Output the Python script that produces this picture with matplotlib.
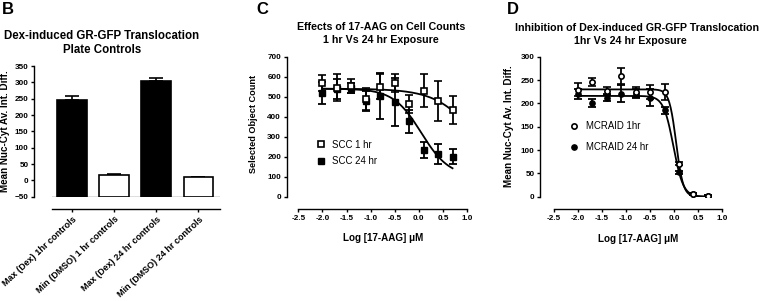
import numpy as np
import matplotlib.pyplot as plt

plt.rcParams['font.family'] = ['Liberation Sans', 'DejaVu Sans']
plt.rcParams['font.weight'] = 'bold'
plt.rcParams['axes.linewidth'] = 1.0

# panel B - plate controls
bar_labels = ['Max (Dex) 1hr controls', 'Min (DMSO) 1 hr controls',
              'Max (Dex) 24 hr controls', 'Min (DMSO) 24 hr controls']
bar_values = [247, 17, 304, 10]
bar_err = [12, 1.5, 10, 1.5]
bar_colors = ['black', 'white', 'black', 'white']

# panels C and D - log dose of 17-AAG (uM)
log_dose = [-2.0, -1.7, -1.4, -1.1, -0.8, -0.5, -0.2, 0.1, 0.4, 0.7]

scc_1hr = [567, 545, 553, 487, 550, 567, 463, 530, 480, 433]
scc_1hr_err = [41, 67, 35, 55, 62, 46, 45, 83, 100, 72]
scc_24hr = [517, 538, 545, 480, 505, 473, 377, 233, 213, 200]
scc_24hr_err = [55, 52, 25, 50, 115, 120, 57, 40, 50, 38]

mcraid_1hr = [229, 246, 226, 259, 224, 224, 224, 71, 5, 2]
mcraid_1hr_err = [14, 9, 8, 17, 10, 15, 17, 4, 2, 1]
mcraid_24hr = [220, 201, 212, 221, 221, 212, 185, 52, 6, 2]
mcraid_24hr_err = [10, 9, 8, 18, 10, 18, 8, 4, 2, 1]

# fitted dose-response parameters (top, bottom, logIC50, hill)
fit_scc_1hr = (540, 0, 1.29, 1.0)
fit_scc_24hr = (540, 100, 0.05, 1.5)
fit_mcraid_1hr = (230, 0, 0.041, 5.97)
fit_mcraid_24hr = (216, 0, -0.017, 4.25)


def logistic(x, top, bottom, c, h):
    return bottom + (top - bottom) / (1 + 10 ** ((x - c) * h))


W, H = 763, 301
fig = plt.figure(figsize=(W / 100, H / 100), dpi=100)


def px_axes(x0, x1, ytop, ybot):
    return fig.add_axes([x0 / W, 1 - ybot / H, (x1 - x0) / W, (ybot - ytop) / H])


def ftext(x, y, s, **kw):
    fig.text(x / W, 1 - y / H, s, **kw)


def style(ax, left_out, bottom_out):
    for s in ['top', 'right']:
        ax.spines[s].set_visible(False)
    ax.spines['left'].set_position(('outward', left_out))
    ax.spines['bottom'].set_position(('outward', bottom_out))
    ax.tick_params(direction='out', length=2.5, width=1.0, labelsize=5.9, pad=1.5)


def dose_axes(ax, ymax, ystep, left_out):
    style(ax, left_out, 9)
    ticks = np.arange(-2.5, 1.01, 0.5)
    ax.set_xlim(-2.5, 1.0)
    ax.set_ylim(0, ymax)
    ax.set_xticks(ticks)
    ax.set_xticklabels(['%.1f' % v for v in ticks])
    ax.set_yticks(range(0, ymax + 1, ystep))


def add_legend(ax, handles, labels, x, y, spacing):
    ax.legend([hd[0] for hd in handles], labels, loc='upper left',
              bbox_to_anchor=(x, y), frameon=False, handlelength=0.8,
              handletextpad=0.8, borderpad=0, borderaxespad=0, labelspacing=spacing,
              prop={'size': 6.9, 'weight': 'normal'})


# ---- B ----
axB = px_axes(52, 220, 66, 196.7)
style(axB, 13, 9)
pos = np.arange(len(bar_values))
vals = np.array(bar_values)
axB.bar(pos, vals + 50, bottom=-50, width=0.71, color=bar_colors,
        edgecolor='black', linewidth=1.2, zorder=3)
axB.errorbar(pos, vals, yerr=[np.zeros(len(bar_err)), bar_err], fmt='none',
             ecolor='black', elinewidth=1.2, capsize=5, capthick=1.2, zorder=2)
axB.axhline(-50, color='0.35', lw=1.0, zorder=1)
axB.set_xlim(-0.474, 3.51)
axB.set_ylim(-50, 350)
axB.set_yticks(range(-50, 351, 50))
axB.set_xticks(pos)
axB.set_xticklabels(bar_labels, rotation=43, ha='right', rotation_mode='anchor',
                    fontsize=6.5)

# ---- C ----
axC = px_axes(298.3, 467, 56.7, 196.7)
dose_axes(axC, 700, 100, 8.4)
xs = np.linspace(-2.0, 0.7, 200)
axC.plot(xs, logistic(xs, *fit_scc_1hr), color='black', lw=1.3)
axC.plot(xs, logistic(xs, *fit_scc_24hr), color='black', lw=1.3)
e24 = axC.errorbar(log_dose, scc_24hr, yerr=scc_24hr_err, fmt='s', ms=4.4, mfc='black',
                   mec='black', ecolor='black', elinewidth=1.3, capsize=3, capthick=1.3)
e1 = axC.errorbar(log_dose, scc_1hr, yerr=scc_1hr_err, fmt='s', ms=4.4, mfc='white',
                  mec='black', mew=1.2, ecolor='black', elinewidth=1.3, capsize=3,
                  capthick=1.3)
add_legend(axC, [e1, e24], ['SCC 1 hr', 'SCC 24 hr'],
           (317 - 298.3) / 168.7, (196.7 - 139.5) / 140, 0.7)

# ---- D ----
axD = px_axes(554, 722.3, 56.7, 196.7)
dose_axes(axD, 300, 50, 10)
axD.plot(xs, logistic(xs, *fit_mcraid_1hr), color='black', lw=1.3)
axD.plot(xs, logistic(xs, *fit_mcraid_24hr), color='black', lw=1.3)
m24 = axD.errorbar(log_dose, mcraid_24hr, yerr=mcraid_24hr_err, fmt='o', ms=3.8, mfc='black',
                   mec='black', ecolor='black', elinewidth=1.3, capsize=3, capthick=1.3)
m1 = axD.errorbar(log_dose, mcraid_1hr, yerr=mcraid_1hr_err, fmt='o', ms=3.8, mfc='white',
                  mec='black', mew=1.2, ecolor='black', elinewidth=1.3, capsize=3,
                  capthick=1.3)
add_legend(axD, [m1, m24], ['MCRAID 1hr', 'MCRAID 24 hr'],
           (570.5 - 554) / 168.3, (196.7 - 121) / 140, 1.15)

# titles, labels and panel letters
tkw = dict(ha='center', va='baseline', fontsize=7.7, fontweight='bold')
ftext(102, 39.3, 'Dex-induced GR-GFP Translocation', **dict(tkw, fontsize=8.3))
ftext(102, 53.3, 'Plate Controls', **dict(tkw, fontsize=8.3))
ftext(381, 30, 'Effects of 17-AAG on Cell Counts', **tkw)
ftext(381, 43.3, '1 hr Vs 24 hr Exposure', **tkw)
ftext(637, 31, 'Inhibition of Dex-induced GR-GFP Translocation', **tkw)
ftext(630, 43.8, '1hr Vs 24 hr Exposure', **tkw)

lkw = dict(ha='center', va='center', fontsize=6.6, fontweight='bold')
ftext(5.5, 131, 'Mean Nuc-Cyt Av. Int. Diff.', rotation=90, **dict(lkw, fontsize=7.1))
ftext(254, 124, 'Selected Object Count', rotation=90, **lkw)
ftext(509, 126, 'Mean Nuc-Cyt Av. Int. Diff.', rotation=90, **dict(lkw, fontsize=7.1))
ftext(383, 238, 'Log [17-AAG] \u03bcM', **dict(lkw, fontsize=7.1))
ftext(638, 239, 'Log [17-AAG] \u03bcM', **dict(lkw, fontsize=7.1))

pkw = dict(ha='left', va='baseline', fontsize=12, fontweight='bold')
ftext(1.5, 14, 'B', **pkw)
ftext(256, 14, 'C', **pkw)
ftext(507, 14, 'D', **pkw)

fig.savefig('out.png', dpi=100)
